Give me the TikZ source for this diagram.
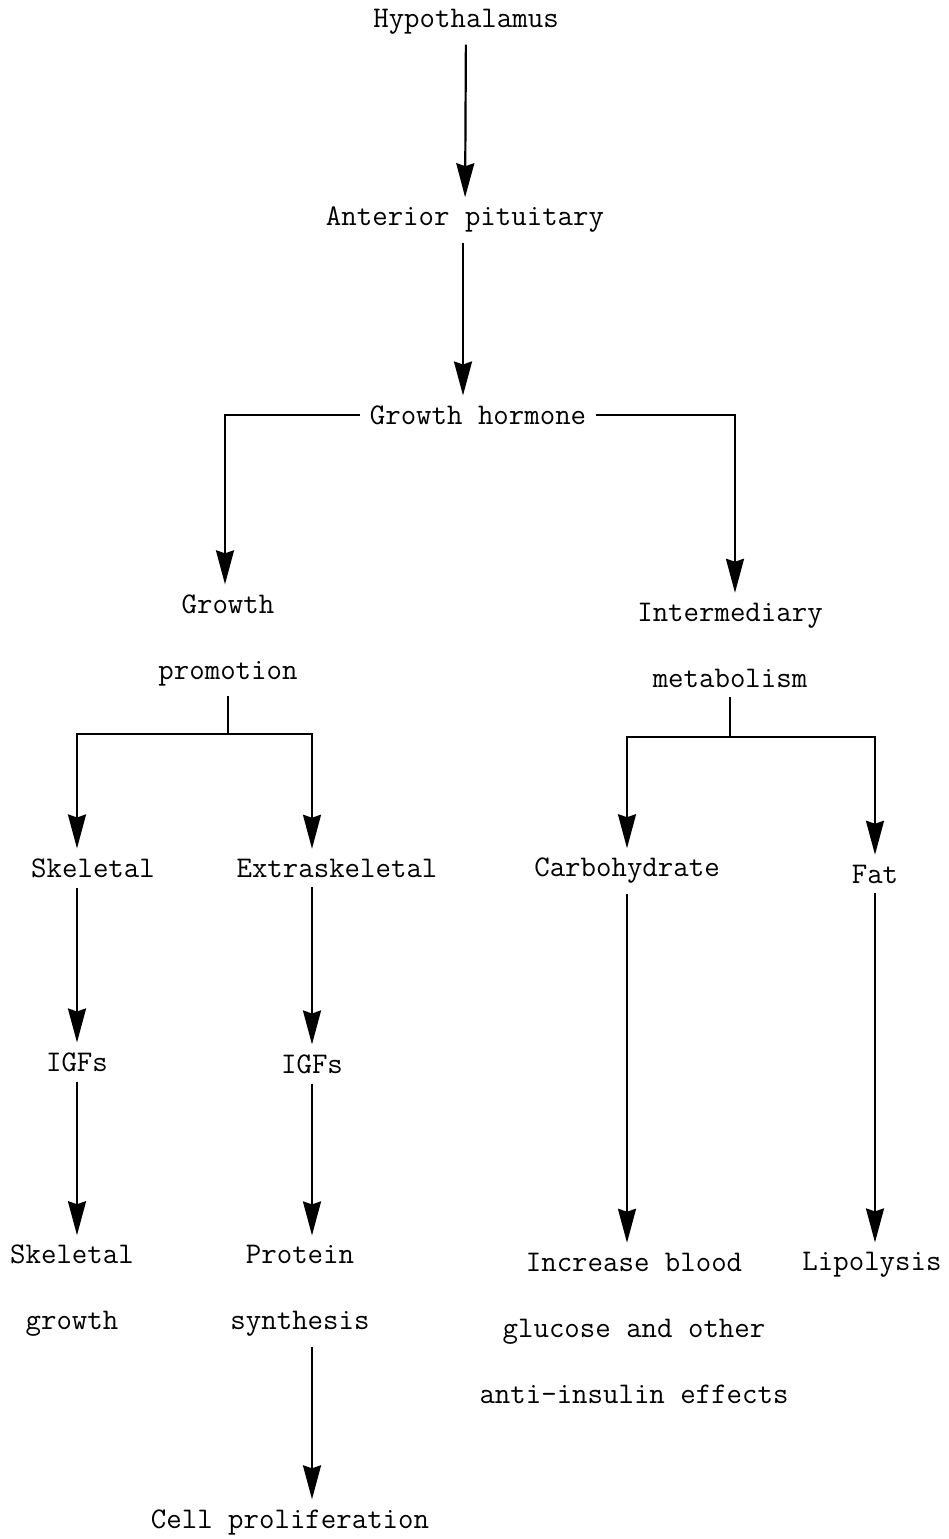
\documentclass[tikz,border=0pt]{standalone}
\usepackage{fontspec}
\usepackage{tikz}
\usetikzlibrary{arrows.meta,calc}

\begin{document}
\begin{tikzpicture}[x=0.5pt,y=-0.5pt,
    lbl/.style={font=\ttfamily\fontsize{15}{33}\selectfont, align=center, inner sep=2pt, outer sep=3pt},
    arr/.style={line width=1.1pt, -{Stealth[length=17pt,width=9pt,inset=1.5pt]}},
    ln/.style={line width=1.1pt}]
  \useasboundingbox (0,0) rectangle (949,1539);

  % Top of the chain
  \node[lbl] (hyp) at (466,22) {Hypothalamus};
  \node[lbl] (ant) at (465,220) {Anterior pituitary};
  \node[lbl] (gh) at (478,415) {Growth hormone};

  % Two main branches
  \node[lbl] (gp) at (228,640) {Growth\\promotion};
  \node[lbl] (im) at (730,645) {Intermediary\\metabolism};

  % Second level
  \node[lbl] (sk) at (93,868) {Skeletal};
  \node[lbl] (ext) at (337,868) {Extraskeletal};
  \node[lbl] (carb) at (627,871) {Carbohydrate};
  \node[lbl] (fat) at (875,874) {Fat};

  % IGFs
  \node[lbl] (igf1) at (77,1062) {IGFs};
  \node[lbl] (igf2) at (312,1064) {IGFs};

  % Effects
  \node[lbl] (skg) at (72,1291) {Skeletal\\growth};
  \node[lbl] (ps) at (300,1291) {Protein\\synthesis};
  \node[lbl] (inc) at (634,1328) {Increase blood\\glucose and other\\anti-insulin effects};
  \node[lbl] (lip) at (872,1265) {Lipolysis};
  \node[lbl] (cp) at (290,1522) {Cell proliferation};

  % Main chain
  \draw[arr] (hyp) -- (ant);
  \draw[arr] (ant.south -| 463,0) -- (gh.north -| 463,0);
  \draw[arr] (gh.west) -| (gp.north -| 225,0);
  \draw[arr] (gh.east) -| (im.north -| 735,0);

  % Growth promotion split
  \draw[ln] (gp.south) -- ++(0,38) coordinate (gpj);
  \draw[arr] (gpj) -| (igf1 |- sk.north);
  \draw[arr] (gpj) -| (igf2 |- ext.north);
  \draw[arr] (sk.south -| igf1) -- (igf1.north);
  \draw[arr] (igf1.south) -- (igf1 |- skg.north);
  \draw[arr] (ext.south -| igf2) -- (igf2.north);
  \draw[arr] (igf2.south) -- (igf2 |- ps.north);
  \draw[arr] (ps.south -| igf2) -- (igf2 |- cp.north);

  % Metabolism split
  \draw[ln] (im.south) -- ++(0,40) coordinate (imj);
  \draw[arr] (imj) -| (carb.north);
  \draw[arr] (imj) -| (fat.north);
  \draw[arr] (carb.south) -- (carb |- inc.north);
  \draw[arr] (fat.south) -- (fat |- lip.north);
\end{tikzpicture}
\end{document}
